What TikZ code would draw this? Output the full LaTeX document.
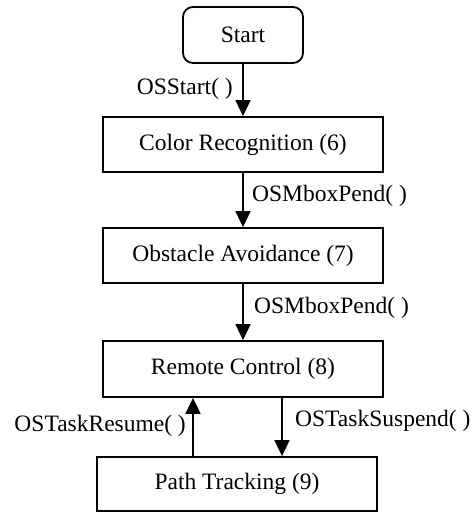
\documentclass[tikz,border=0pt]{standalone}
\usepackage{fontspec}
\setmainfont{Liberation Serif}
\usetikzlibrary{arrows.meta}
\begin{document}
\begin{tikzpicture}[x=1pt,y=-1pt,
  box/.style={draw, line width=1.8pt, minimum width=280pt, minimum height=55pt, inner sep=0pt, font=\fontsize{23.5}{26}\selectfont},
  lbl/.style={inner sep=0pt, font=\fontsize{23.5}{26}\selectfont},
  arr/.style={line width=1.8pt, -{Triangle[width=15pt,length=16pt]}}]
\useasboundingbox (0,0) rectangle (475,513);
\node[box, rounded corners=10pt, minimum width=120pt, minimum height=56pt] (start) at (243,35) {Start};
\node[box] (color) at (243,144.5) {Color Recognition (6)};
\node[box] (obst) at (243,255.5) {Obstacle Avoidance (7)};
\node[box, minimum height=56pt] (remote) at (243,369) {Remote Control (8)};
\node[box, minimum height=54pt] (path) at (237,484) {Path Tracking (9)};
\draw[arr] (start.south) -- (color.north);
\draw[arr] (color.south) -- (obst.north);
\draw[arr] (obst.south) -- (remote.north);
\draw[arr] ([xshift=-50pt]remote.south |- path.north) -- ([xshift=-50pt]remote.south);
\draw[arr] ([xshift=39pt]remote.south) -- ([xshift=39pt]remote.south |- path.north);
\node[lbl, anchor=base east] (l1) at (233,95) {OSStart( )};
\node[lbl, anchor=base west] (l2) at (252,201) {OSMboxPend( )};
\node[lbl, anchor=base west] (l3) at (254,313) {OSMboxPend( )};
\node[lbl, anchor=base east] (l4) at (186,431) {OSTaskResume( )};
\node[lbl, anchor=base west] (l5) at (295,426) {OSTaskSuspend( )};
\end{tikzpicture}
\end{document}
